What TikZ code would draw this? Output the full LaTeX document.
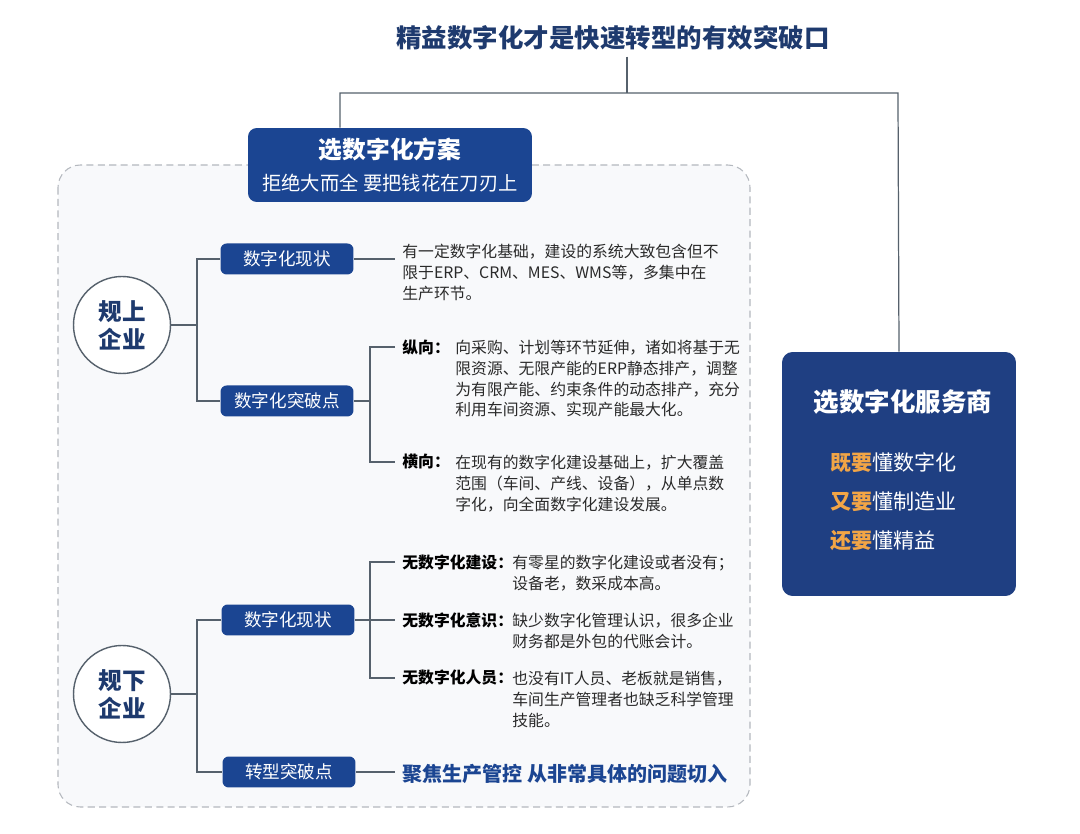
\documentclass[tikz,border=0pt]{standalone}
\usepackage{fontspec}
\setmainfont{Noto Sans CJK SC}
\usepackage{tikz}
\definecolor{navy}{HTML}{1E3A6E}
\definecolor{boxblue}{HTML}{1B4592}
\definecolor{deepblue}{HTML}{1F3F82}
\definecolor{linegray}{HTML}{56616C}
\definecolor{dashgray}{HTML}{B4B8BE}
\definecolor{panelbg}{HTML}{F8F9FB}
\definecolor{accent}{HTML}{F2A546}
\definecolor{ink}{HTML}{2A2A2A}

\begin{document}
\begin{tikzpicture}[x=0.02cm,y=-0.02cm,
  link/.style={linegray, line width=0.7pt},
  tag/.style={fill=boxblue, text=white, rounded corners=3.5pt, minimum width=2.66cm, minimum height=0.62cm, inner sep=0pt, font=\fontsize{10}{12}\selectfont},
  firm/.style={circle, draw=linegray, line width=0.8pt, fill=white, minimum size=1.94cm, inner sep=0pt, align=center, text=navy, font=\fontsize{13.4}{16}\selectfont\bfseries},
  head/.style={anchor=west, inner xsep=4pt, inner ysep=0pt, text=black, font=\fontsize{9}{11.8}\selectfont\bfseries},
  body/.style={anchor=north west, inner xsep=4pt, inner ysep=0pt, align=left, text=ink, font=\fontsize{9}{11.8}\selectfont},
]
\useasboundingbox[fill=white] (0,0) rectangle (1080,834);

% title and top split
\node[text=navy, font=\fontsize{14.5}{17}\selectfont\bfseries] (top) at (613,38) {精益数字化才是快速转型的有效突破口};
\coordinate (split) at (627,93);
\coordinate (jl) at (340,93);
\coordinate (jr) at (898,93);

% dashed panel
\draw[dashgray, dash pattern=on 4pt off 2.5pt, line width=0.6pt, fill=panelbg, rounded corners=0.45cm] (58,165) rectangle (750,807);

\node[fill=boxblue, rounded corners=5pt, minimum width=5.68cm, minimum height=1.48cm, align=center, text=white] (plan) at (390,165)
  {{\fontsize{13.5}{16}\selectfont\bfseries 选数字化方案}\\[6pt]{\fontsize{11}{13}\selectfont 拒绝大而全 要把钱花在刀刃上}};

\node[fill=deepblue, rounded corners=6pt, minimum width=4.68cm, minimum height=4.88cm] (vendor) at (899,474) {};
\node[text=white, font=\fontsize{14.5}{17}\selectfont\bfseries] (vendortitle) at (903,402) {选数字化服务商};
\node[anchor=north west, inner sep=0pt, align=left, text=white, font=\fontsize{12}{22.2}\selectfont] (vendorlist) at (830,452)
  {{\bfseries\color{accent}既要}懂数字化\\{\bfseries\color{accent}又要}懂制造业\\{\bfseries\color{accent}还要}懂精益};

\draw[link] (split |- top.south) -- (split);
\draw[link] (jl |- plan.north) -- (jl) -- (jr) -- (vendor.north);

% 规上企业
\node[firm] (big) at (122,325) {规上\\企业};
\node[tag] (bignow) at (287,259) {数字化现状};
\node[tag] (bigbreak) at (287,401) {数字化突破点};
\coordinate (bigfork) at (197,325);
\draw[link] (big.east) -- (bigfork);
\draw[link] (bignow.west) -| (bigfork) |- (bigbreak.west);

\node[body] (bignowtext) at (395,244) {有一定数字化基础，建设的系统大致包含但不\\限于ERP、CRM、MES、WMS等，多集中在\\生产环节。};
\draw[link] (bignow.east) -- (bignow.east -| bignowtext.west);

\node[head] (zong) at (395,347) {纵向：};
\node[body] (zongtext) at (448,340) {向采购、计划等环节延伸，诸如将基于无\\限资源、无限产能的ERP静态排产，调整\\为有限产能、约束条件的动态排产，充分\\利用车间资源、实现产能最大化。};
\node[head] (heng) at (395,462) {横向：};
\node[body] (hengtext) at (448,455) {在现有的数字化建设基础上，扩大覆盖\\范围（车间、产线、设备），从单点数\\字化，向全面数字化建设发展。};
\coordinate (bkfork) at (370,401);
\draw[link] (bigbreak.east) -- (bkfork);
\draw[link] (zong.west) -| (bkfork) |- (heng.west);

% 规下企业
\node[firm] (small) at (122,694) {规下\\企业};
\node[tag] (smnow) at (288,620) {数字化现状};
\node[tag] (smbreak) at (289,772) {转型突破点};
\coordinate (smfork) at (197,694);
\draw[link] (small.east) -- (smfork);
\draw[link] (smnow.west) -| (smfork) |- (smbreak.west);

\node[head] (jianshe) at (395,562) {无数字化建设：};
\node[body] (jianshetext) at (505,555) {有零星的数字化建设或者没有；\\设备老，数采成本高。};
\node[head] (yishi) at (395,620) {无数字化意识：};
\node[body] (yishitext) at (505,613) {缺少数字化管理认识，很多企业\\财务都是外包的代账会计。};
\node[head] (renyuan) at (395,678) {无数字化人员：};
\node[body] (renyuantext) at (505,671) {也没有IT人员、老板就是销售，\\车间生产管理者也缺乏科学管理\\技能。};
\coordinate (smbk) at (370,620);
\draw[link] (jianshe.west) -| (smbk) |- (renyuan.west);
\draw[link] (smnow.east) -- (yishi.west);

\node[head, text=boxblue, font=\fontsize{11.4}{13}\selectfont\bfseries] (focus) at (395,774) {聚焦生产管控 从非常具体的问题切入};
\draw[link] (smbreak.east) -- (smbreak.east -| focus.west);

\end{tikzpicture}
\end{document}
